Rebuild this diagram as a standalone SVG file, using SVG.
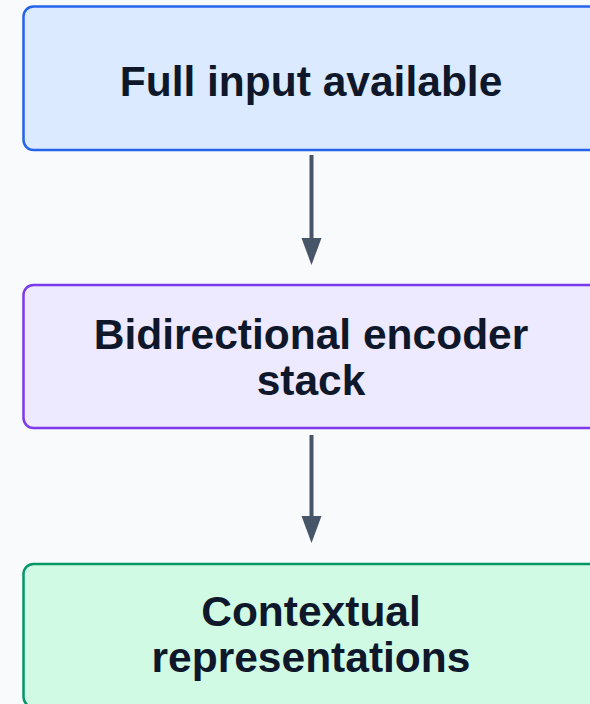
<svg xmlns="http://www.w3.org/2000/svg" width="590" height="704" viewBox="0 0 590 704">
  <style>
    .box { stroke-width: 2.5; }
    .label { font-family: "Liberation Sans", Arial, sans-serif; font-size: 42.5px; font-weight: bold; fill: #0f172a; text-anchor: middle; }
    .edge { stroke: #475569; stroke-width: 4; fill: none; }
    .head { fill: #475569; }
  </style>
  <defs>
    <!-- arrowhead, tip at origin pointing down -->
    <path id="head" class="head" d="M-10,-27 L10,-27 L0,0 Z"/>
  </defs>
  <rect width="590" height="704" fill="#f8fafc"/>

  <g id="node-input">
    <rect class="box" x="23.5" y="6.5" width="576" height="143.5" rx="10" fill="#dbeafe" stroke="#2563eb"/>
    <text class="label" x="311" y="96">Full input available</text>
  </g>

  <g id="node-encoder">
    <rect class="box" x="23.5" y="285" width="576" height="143" rx="10" fill="#ede9fe" stroke="#7c3aed"/>
    <text class="label" x="311" y="349">Bidirectional encoder</text>
    <text class="label" x="311" y="395">stack</text>
  </g>

  <g id="node-output">
    <rect class="box" x="23.5" y="564" width="576" height="143" rx="10" fill="#d1fae5" stroke="#059669"/>
    <text class="label" x="311" y="626">Contextual</text>
    <text class="label" x="311" y="672">representations</text>
  </g>

  <g id="connectors">
    <line class="edge" x1="311.5" y1="155" x2="311.5" y2="240"/>
    <use href="#head" x="311.5" y="265"/>
    <line class="edge" x1="311.5" y1="435" x2="311.5" y2="518"/>
    <use href="#head" x="311.5" y="543"/>
  </g>
</svg>
